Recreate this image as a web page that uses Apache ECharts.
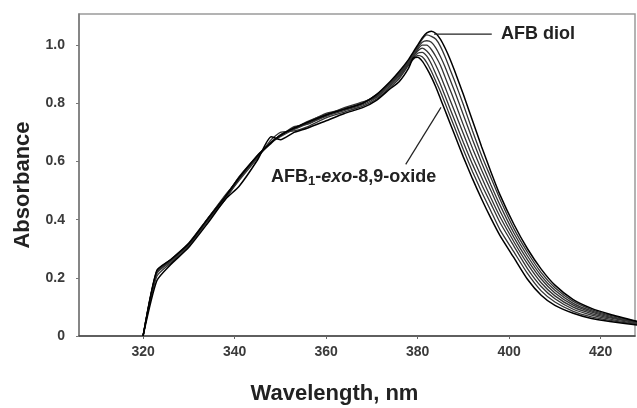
<!DOCTYPE html>
<html><head><meta charset="utf-8">
<script src="https://cdn.jsdelivr.net/npm/echarts@6/dist/echarts.min.js"></script>
<style>html,body{margin:0;padding:0;background:#fff}#c{width:637px;height:408px}</style>
</head><body><div id="c"></div>
<script>
// Wavelength grid (nm)
const wavelengths = [320,323,326,330,334,338,341,345,348,350,353,356,360,364,368,371,374,376,378,379,380,381,382,383,384,385,386,387,388,390,392,394,396,398,401,404,407,410,414,418,422,428];
// Absorbance scans, from AFB1-exo-8,9-oxide (first) to AFB diol (last)
const scanOxide = [0,0.19,0.245,0.305,0.385,0.47,0.515,0.605,0.685,0.675,0.70,0.715,0.74,0.765,0.785,0.81,0.85,0.875,0.92,0.955,0.958,0.945,0.92,0.89,0.855,0.815,0.775,0.735,0.695,0.615,0.54,0.47,0.405,0.345,0.27,0.195,0.14,0.105,0.078,0.06,0.05,0.038];
const scan2 = [0,0.205,0.25,0.31,0.392,0.475,0.535,0.612,0.675,0.70,0.705,0.72,0.75,0.77,0.79,0.815,0.855,0.885,0.93,0.95,0.965,0.96,0.94,0.91,0.875,0.84,0.80,0.76,0.72,0.64,0.565,0.495,0.43,0.365,0.29,0.215,0.155,0.117,0.085,0.066,0.054,0.04];
const scan3 = [0,0.215,0.255,0.315,0.395,0.47,0.54,0.615,0.665,0.685,0.71,0.73,0.755,0.775,0.795,0.82,0.86,0.89,0.935,0.955,0.972,0.975,0.962,0.935,0.90,0.865,0.825,0.785,0.745,0.665,0.59,0.52,0.455,0.39,0.31,0.232,0.17,0.128,0.092,0.072,0.058,0.042];
const scan4 = [0,0.22,0.26,0.312,0.40,0.485,0.54,0.618,0.662,0.69,0.712,0.735,0.765,0.78,0.80,0.825,0.865,0.895,0.935,0.96,0.98,0.99,0.98,0.96,0.93,0.895,0.855,0.815,0.775,0.695,0.615,0.545,0.475,0.41,0.325,0.248,0.183,0.138,0.099,0.077,0.062,0.044];
const scan5 = [0,0.218,0.258,0.318,0.398,0.478,0.548,0.62,0.668,0.688,0.72,0.728,0.758,0.785,0.805,0.822,0.87,0.90,0.94,0.96,0.985,1.0,1.0,0.985,0.96,0.93,0.89,0.85,0.81,0.725,0.645,0.57,0.50,0.43,0.34,0.262,0.196,0.148,0.106,0.082,0.065,0.046];
const scan6 = [0,0.222,0.262,0.32,0.402,0.482,0.542,0.622,0.664,0.692,0.714,0.738,0.762,0.778,0.802,0.828,0.868,0.90,0.94,0.965,0.99,1.01,1.015,1.01,0.99,0.96,0.925,0.885,0.845,0.76,0.675,0.595,0.52,0.45,0.355,0.275,0.207,0.157,0.112,0.086,0.068,0.047];
const scan7 = [0,0.224,0.26,0.316,0.40,0.48,0.546,0.618,0.666,0.69,0.716,0.734,0.76,0.782,0.80,0.83,0.872,0.905,0.945,0.97,0.995,1.02,1.035,1.03,1.02,0.995,0.96,0.92,0.88,0.795,0.705,0.62,0.545,0.47,0.37,0.288,0.218,0.166,0.119,0.091,0.072,0.049];
const scanDiol = [0,0.225,0.262,0.318,0.40,0.48,0.545,0.62,0.665,0.69,0.715,0.735,0.76,0.78,0.80,0.83,0.875,0.91,0.95,0.975,1.0,1.025,1.042,1.048,1.04,1.02,0.99,0.955,0.915,0.83,0.74,0.65,0.565,0.485,0.385,0.30,0.23,0.175,0.125,0.095,0.075,0.05];

const xTicks = [320,340,360,380,400,420];
const yTicks = [0,0.2,0.4,0.6,0.8,1.0];
const diolLeader = [[383.6,1.038],[396.2,1.038]];
const oxideLeader = [[377.4,0.59],[385.1,0.786]];

const scans = [scanOxide, scan2, scan3, scan4, scan5, scan6, scan7, scanDiol];
const FONT = '"Liberation Sans", Arial, Helvetica, sans-serif';

const chart = echarts.init(document.getElementById('c'), null, {renderer: 'canvas'});

const series = scans.map((vals, i) => ({
  type: 'line',
  data: wavelengths.map((w, j) => [w, vals[j]]),
  symbol: 'none',
  smooth: 0.2,
  lineStyle: {width: (i === 0 || i === scans.length - 1) ? 1.5 : 1.3, color: (i === 0 || i === scans.length - 1) ? '#000' : '#333'},
  z: (i === 0 || i === scans.length - 1) ? 3 : 2
}));
[diolLeader, oxideLeader].forEach(seg => series.push({
  type: 'line', data: seg, symbol: 'none', lineStyle: {width: 1.2, color: '#222'}, z: 4
}));

chart.setOption({
  animation: false,
  backgroundColor: '#fff',
  grid: {left: 79, right: 2, top: 14, bottom: 72, show: true, borderColor: '#9a9a9a', borderWidth: 1.5, backgroundColor: 'transparent'},
  xAxis: {
    type: 'value', min: 306, max: 427.5,
    axisLine: {show: true, lineStyle: {color: '#444', width: 1.5}},
    axisTick: {show: true, length: 3, customValues: xTicks, lineStyle: {color: '#666'}},
    axisLabel: {customValues: xTicks, margin: 9, fontFamily: FONT, fontWeight: 'bold', fontSize: 14, color: '#3a3a3a'},
    splitLine: {show: false}
  },
  yAxis: {
    type: 'value', min: 0, max: 1.107,
    axisLine: {show: true, lineStyle: {color: '#777', width: 1.5}},
    axisTick: {show: true, length: 3, customValues: yTicks, lineStyle: {color: '#777'}},
    axisLabel: {customValues: yTicks, margin: 14, fontFamily: FONT, fontWeight: 'bold', fontSize: 14, color: '#3a3a3a',
      formatter: v => v === 0 ? '0' : v.toFixed(1)},
    splitLine: {show: false}
  },
  series: series,
  graphic: [
    {type: 'text', x: 22.7, y: 185, rotation: Math.PI / 2,
      style: {text: 'Absorbance', font: 'bold 22px ' + FONT, fill: '#222', textAlign: 'center', textVerticalAlign: 'middle'}},
    {type: 'text', x: 334.5, y: 394,
      style: {text: 'Wavelength, nm', font: 'bold 22px ' + FONT, fill: '#222', textAlign: 'center', textVerticalAlign: 'middle'}},
    {type: 'text', x: 501, y: 34,
      style: {text: 'AFB diol', font: 'bold 18px ' + FONT, fill: '#222', textAlign: 'left', textVerticalAlign: 'middle'}},
    {type: 'text', x: 271, y: 177, z: 10,
      style: {
        text: 'AFB{sub|1}-{it|exo}-8,9-oxide',
        font: 'bold 18px ' + FONT, fill: '#222', textAlign: 'left', textVerticalAlign: 'middle',
        rich: {
          sub: {fontSize: 13, fontWeight: 'bold', fontFamily: FONT, fill: '#222', padding: [9, 0, 0, 0]},
          it: {fontSize: 18, fontWeight: 'bold', fontStyle: 'italic', fontFamily: FONT, fill: '#222'}
        }
      }}
  ]
});
</script>
</body></html>
